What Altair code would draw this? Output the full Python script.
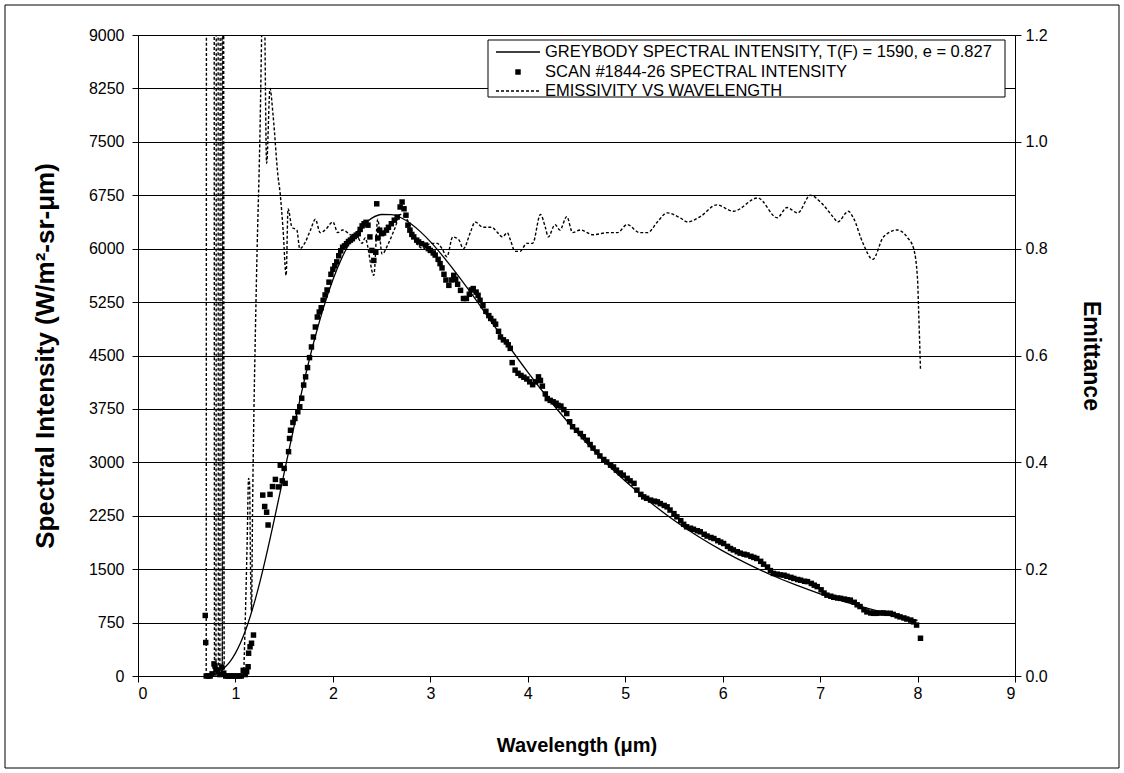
import altair as alt
import pandas as pd

# ---------------- data ----------------
grey_wl = [0.85, 0.9, 0.95, 1.0, 1.05, 1.1, 1.15, 1.2, 1.25, 1.3, 1.4, 1.5, 1.6, 1.7, 1.8, 1.9,
           2.0, 2.1, 2.2, 2.3, 2.4, 2.5, 2.6, 2.7, 2.8, 2.9, 3.0, 3.2, 3.4, 3.6, 3.8, 4.0,
           4.2, 4.4, 4.6, 4.8, 5.0, 5.25, 5.5, 5.75, 6.0, 6.25, 6.5, 6.75, 7.0, 7.25, 7.5,
           7.75, 8.0]
grey_val = [78, 133, 213, 321, 459, 628, 829, 1059, 1315, 1595, 2205, 2851, 3494, 4110, 4668, 5154,
            5564, 5894, 6146, 6315, 6429, 6480, 6478, 6434, 6349, 6236, 6099, 5773, 5410, 5026, 4641, 4267,
            3914, 3584, 3278, 2995, 2737, 2446, 2187, 1958, 1756, 1577, 1418, 1278, 1154, 1043, 945,
            858, 780]

scan_wl = [0.69, 0.695, 0.70, 0.72, 0.74, 0.76, 0.78, 0.79, 0.80, 0.82, 0.84, 0.86, 0.88, 0.90,
           0.92, 0.94, 0.96, 0.98, 1.00, 1.02, 1.04, 1.06, 1.08, 1.10, 1.115, 1.13, 1.135, 1.15,
           1.165, 1.185, 1.28, 1.30, 1.32, 1.335, 1.355, 1.38, 1.41, 1.44, 1.46, 1.48, 1.50, 1.51,
           1.545, 1.555, 1.565, 1.59, 1.61, 1.64, 1.66, 1.68, 1.70, 1.72, 1.74, 1.76, 1.78, 1.80,
           1.82, 1.84, 1.86, 1.88, 1.90, 1.92, 1.94, 1.96, 1.98, 2.00, 2.02, 2.04, 2.06, 2.08,
           2.10, 2.12, 2.14, 2.16, 2.18, 2.20, 2.22, 2.24, 2.26, 2.28, 2.30, 2.32, 2.34, 2.36,
           2.38, 2.40, 2.42, 2.44, 2.45, 2.46, 2.48, 2.50, 2.52, 2.55, 2.57, 2.60, 2.63, 2.66,
           2.69, 2.71, 2.73, 2.75, 2.77, 2.79, 2.81, 2.83, 2.86, 2.88, 2.91, 2.95, 2.98, 3.00,
           3.03, 3.05, 3.08, 3.10, 3.12, 3.14, 3.16, 3.19, 3.22, 3.24, 3.26, 3.28, 3.31, 3.34,
           3.37, 3.40, 3.42, 3.44, 3.47, 3.49, 3.51, 3.54, 3.57, 3.60, 3.62, 3.65, 3.67, 3.70,
           3.72, 3.75, 3.78, 3.80, 3.82, 3.84, 3.87, 3.90, 3.93, 3.96, 3.99, 4.02, 4.05, 4.08,
           4.11, 4.13, 4.15, 4.18, 4.20, 4.23, 4.26, 4.29, 4.31, 4.34, 4.37, 4.40, 4.43, 4.46,
           4.50, 4.54, 4.57, 4.61, 4.64, 4.67, 4.71, 4.74, 4.78, 4.81, 4.85, 4.88, 4.91, 4.95,
           4.98, 5.02, 5.05, 5.09, 5.12, 5.16, 5.19, 5.22, 5.26, 5.30, 5.33, 5.36, 5.40, 5.43,
           5.46, 5.50, 5.53, 5.57, 5.60, 5.63, 5.67, 5.70, 5.74, 5.77, 5.81, 5.84, 5.88, 5.91,
           5.95, 5.98, 6.01, 6.05, 6.08, 6.11, 6.15, 6.18, 6.22, 6.25, 6.29, 6.32, 6.35, 6.39,
           6.42, 6.46, 6.49, 6.52, 6.56, 6.59, 6.63, 6.66, 6.70, 6.73, 6.77, 6.80, 6.84, 6.87,
           6.91, 6.94, 6.97, 7.01, 7.04, 7.07, 7.11, 7.14, 7.18, 7.21, 7.25, 7.28, 7.31, 7.35,
           7.38, 7.41, 7.45, 7.48, 7.52, 7.55, 7.58, 7.62, 7.65, 7.68, 7.72, 7.75, 7.79, 7.82,
           7.86, 7.89, 7.93, 7.96, 7.99, 8.03]
scan_val = [850, 470, 0, 0, 0, 30, 170, 140, 90, 60, 20, 125, 40, 0,
            0, 0, 0, 0, 0, 0, 0, 0, 80, 20, 60, 130, 320, 410,
            460, 575, 2540, 2380, 2300, 2120, 2550, 2660, 2760, 2655, 2960, 2740, 2915, 2705,
            3150, 3335, 3450, 3560, 3615, 3710, 3780, 3900, 4085, 4200, 4330, 4470, 4620, 4760,
            4900, 5040, 5110, 5170, 5275, 5350, 5420, 5530, 5640, 5710, 5760, 5815, 5900, 5970,
            6020, 6040, 6070, 6100, 6120, 6140, 6170, 6190, 6210, 6270, 6320, 6350, 6370, 6330,
            6165, 5975, 5835, 5950, 6630, 6150, 6260, 6210, 6220, 6260, 6300, 6350, 6400, 6445,
            6585, 6655, 6560, 6470, 6330, 6260, 6200, 6165, 6120, 6095, 6070, 6050, 6000, 5975,
            5940, 5910, 5850, 5790, 5730, 5640, 5560, 5485, 5560, 5625, 5570, 5500, 5415, 5300,
            5300, 5360, 5420, 5440, 5390, 5345, 5275, 5200, 5120, 5060, 5020, 4980, 4940, 4840,
            4760, 4720, 4690, 4650, 4600, 4400, 4295, 4250, 4220, 4195, 4170, 4130, 4090, 4130,
            4200, 4150, 4070, 3960, 3895, 3870, 3850, 3830, 3800, 3790, 3740, 3685, 3570, 3500,
            3450, 3405, 3360, 3310, 3250, 3200, 3145, 3090, 3040, 3005, 2960, 2935, 2890, 2850,
            2820, 2775, 2740, 2705, 2610, 2550, 2515, 2495, 2470, 2455, 2445, 2420, 2395, 2375,
            2330, 2280, 2235, 2180, 2130, 2095, 2075, 2060, 2040, 2025, 1990, 1965, 1945, 1930,
            1900, 1880, 1860, 1820, 1790, 1770, 1745, 1725, 1710, 1700, 1680, 1665, 1650, 1610,
            1570, 1530, 1480, 1440, 1430, 1420, 1415, 1400, 1385, 1370, 1355, 1345, 1330, 1325,
            1300, 1275, 1255, 1210, 1165, 1135, 1120, 1105, 1095, 1090, 1080, 1070, 1065, 1035,
            1000, 975, 930, 900, 885, 880, 880, 885, 885, 880, 880, 865, 845, 830,
            815, 800, 785, 760, 715, 530]

emis_wl = [0.70, 0.705, 0.78, 0.785, 0.80, 0.805, 0.82, 0.825, 0.84, 0.845, 0.86, 0.865, 0.875,
           0.885, 1.06, 1.08, 1.10, 1.12, 1.135, 1.145, 1.155, 1.165, 1.175, 1.19, 1.20, 1.22,
           1.25, 1.28, 1.29, 1.32, 1.355, 1.386, 1.437, 1.458, 1.489, 1.52, 1.54, 1.58, 1.63,
           1.66, 1.71, 1.77, 1.82, 1.87, 1.92, 2.00, 2.05, 2.10, 2.18, 2.25, 2.30, 2.33, 2.42,
           2.46, 2.505, 2.57, 2.64, 2.69, 2.76, 2.82, 2.86, 2.93, 3.00, 3.07, 3.12, 3.17, 3.23,
           3.29, 3.34, 3.41, 3.46, 3.54, 3.63, 3.69, 3.74, 3.79, 3.82, 3.87, 3.92, 3.99, 4.05,
           4.13, 4.18, 4.21, 4.28, 4.33, 4.40, 4.46, 4.54, 4.67, 4.82, 4.92, 5.02, 5.15, 5.23,
           5.33, 5.43, 5.56, 5.64, 5.77, 5.94, 6.11, 6.36, 6.56, 6.66, 6.77, 6.90, 7.00, 7.14,
           7.18, 7.29, 7.34, 7.44, 7.54, 7.65, 7.79, 7.90, 7.96, 8.00, 8.01, 8.03]
emis_val = [0.0, 2.0, 2.0, 0.0, 0.0, 2.0, 2.0, 0.0, 0.0, 2.0, 2.0, 0.0, 2.0,
            0.0, 0.0, 0.0, 0.10, 0.25, 0.37, 0.36, 0.20, 0.12, 0.30, 0.50, 0.60, 0.78,
            1.00, 1.30, 1.35, 0.96, 1.10, 1.05, 0.935, 0.905, 0.835, 0.75, 0.875, 0.84, 0.835,
            0.80, 0.81, 0.835, 0.855, 0.83, 0.835, 0.85, 0.83, 0.835, 0.826, 0.822, 0.81, 0.82, 0.75,
            0.855, 0.79, 0.81, 0.84, 0.864, 0.855, 0.83, 0.81, 0.80, 0.81, 0.81, 0.80, 0.785, 0.822,
            0.817, 0.80, 0.83, 0.85, 0.84, 0.84, 0.83, 0.822, 0.83, 0.817, 0.795, 0.795, 0.81, 0.81,
            0.864, 0.84, 0.822, 0.845, 0.835, 0.86, 0.83, 0.835, 0.826, 0.83, 0.83, 0.845, 0.83, 0.83,
            0.85, 0.867, 0.858, 0.85, 0.86, 0.882, 0.87, 0.895, 0.858, 0.877, 0.867, 0.90, 0.888, 0.858,
            0.85, 0.87, 0.858, 0.81, 0.78, 0.822, 0.835, 0.82, 0.80, 0.742, 0.69, 0.574]

x_ticks = [0, 1, 2, 3, 4, 5, 6, 7, 8, 9]
left_ticks = [0, 750, 1500, 2250, 3000, 3750, 4500, 5250, 6000, 6750, 7500, 8250, 9000]
right_ticks = [0.0, 0.2, 0.4, 0.6, 0.8, 1.0, 1.2]
legend_labels = ["GREYBODY SPECTRAL INTENSITY, T(F) = 1590, e = 0.827",
                 "SCAN #1844-26 SPECTRAL INTENSITY",
                 "EMISSIVITY VS WAVELENGTH"]

grey_df = pd.DataFrame({"wl": grey_wl, "val": grey_val})
scan_df = pd.DataFrame({"wl": scan_wl, "val": scan_val})
emis_df = pd.DataFrame({"wl": emis_wl, "val": emis_val})

FONT = "Liberation Sans"
W, H = 877, 641

xscale = alt.Scale(domain=[0, 9], nice=False, zero=False)
yscale_l = alt.Scale(domain=[0, 9000], nice=False)
yscale_r = alt.Scale(domain=[0, 1.2], nice=False)

x_axis = alt.Axis(values=x_ticks, format="d", title="Wavelength (μm)", grid=False,
                  labelFontSize=16, labelPadding=3, tickSize=6, titleFontSize=20,
                  titleFontWeight="bold", titleY=69, titleBaseline="middle")

left_axis = alt.Axis(values=left_ticks, format="d", title="Spectral Intensity (W/m²-sr-μm)",
                     grid=True, gridColor="black", gridWidth=1, gridOpacity=1,
                     labelFontSize=16, labelPadding=8, tickSize=6,
                     titleFontSize=26, titleFontWeight="bold", titleAngle=270,
                     titleX=-93, titleY=H / 2, titleBaseline="middle", titleAlign="center")

right_axis = alt.Axis(values=right_ticks, format=".1f", title="Emittance", orient="right",
                      grid=False, labelFontSize=16, labelPadding=4, tickSize=6,
                      titleFontSize=23, titleFontWeight="bold", titleAngle=90,
                      titleX=75, titleY=H / 2, titleBaseline="middle", titleAlign="center")

grey = alt.Chart(grey_df).mark_line(color="black", strokeWidth=1.3, interpolate="monotone").encode(
    x=alt.X("wl:Q", scale=xscale, axis=x_axis),
    y=alt.Y("val:Q", scale=yscale_l, axis=left_axis),
)
scan = alt.Chart(scan_df).mark_point(shape="square", filled=True, color="black", size=30,
                                     opacity=1).encode(
    x=alt.X("wl:Q", scale=xscale, axis=x_axis),
    y=alt.Y("val:Q", scale=yscale_l, axis=left_axis),
)
left = alt.layer(grey, scan)

emis = alt.Chart(emis_df).mark_line(color="black", strokeWidth=1.4, strokeDash=[3, 2],
                                    clip=True, interpolate="monotone").encode(
    x=alt.X("wl:Q", scale=xscale, axis=x_axis),
    y=alt.Y("val:Q", scale=yscale_r, axis=right_axis),
)

# ---------------- legend (drawn by hand) and outer frame ----------------
LX0, LX1, LY0, LY1 = 350, 867, 5, 62
rows = [17, 37, 56]
frame = alt.Chart(pd.DataFrame({"a": [0]})).mark_rect(filled=False, stroke="black",
                                                      strokeWidth=1).encode(
    x=alt.value(-133), x2=alt.value(981), y=alt.value(-30), y2=alt.value(733))
lbox = alt.Chart(pd.DataFrame({"a": [0]})).mark_rect(fill="white", stroke="black",
                                                     strokeWidth=1).encode(
    x=alt.value(LX0), x2=alt.value(LX1), y=alt.value(LY0), y2=alt.value(LY1))
s1 = alt.Chart(pd.DataFrame({"a": [0]})).mark_rule(color="black", strokeWidth=1.3).encode(
    x=alt.value(LX0 + 8), x2=alt.value(LX0 + 52), y=alt.value(rows[0]))
s2 = alt.Chart(pd.DataFrame({"a": [0]})).mark_point(shape="square", filled=True, color="black",
                                                    size=30, opacity=1).encode(
    x=alt.value(LX0 + 30), y=alt.value(rows[1]))
s3 = alt.Chart(pd.DataFrame({"a": [0]})).mark_rule(color="black", strokeWidth=1.4,
                                                   strokeDash=[3, 2]).encode(
    x=alt.value(LX0 + 8), x2=alt.value(LX0 + 52), y=alt.value(rows[2]))
texts = [alt.Chart(pd.DataFrame({"t": [lab]})).mark_text(
            align="left", baseline="middle", font=FONT, fontSize=16.5, color="black").encode(
            x=alt.value(LX0 + 57), y=alt.value(r), text="t:N")
         for lab, r in zip(legend_labels, rows)]

chart = alt.layer(left, emis, frame, lbox, s1, s2, s3, *texts).resolve_scale(
    y="independent"
).properties(
    width=W, height=H,
    autosize=alt.AutoSizeParams(type="none"),
    padding={"left": 138, "top": 35, "right": 109, "bottom": 97},
    background="white",
).configure_view(
    stroke="black", strokeWidth=1
).configure_axis(
    labelFont=FONT, titleFont=FONT, labelColor="black", titleColor="black",
    domainColor="black", tickColor="black", domainWidth=1, tickWidth=1,
)

chart.save("out.html", embed_options={"renderer": "svg", "actions": False})
